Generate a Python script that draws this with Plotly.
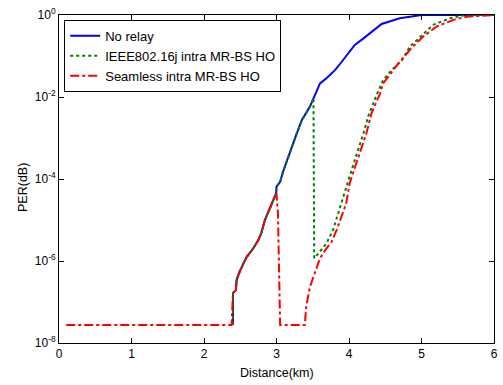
import plotly.graph_objects as go

FLOOR = 2.75e-8

blue_x = [2.40, 2.40, 2.44, 2.45, 2.49, 2.54, 2.59, 2.63, 2.68, 2.75, 2.79, 2.84, 2.88, 2.93, 2.98, 2.995,
          3.00, 3.05, 3.09, 3.18, 3.28, 3.35, 3.46, 3.51, 3.60, 3.69, 3.81, 3.90, 4.08, 4.20, 4.38,
          4.45, 4.70, 4.89, 5.00, 6.00]
blue_y = [FLOOR, 1.66e-7, 1.95e-7, 3.47e-7, 5.5e-7, 8.7e-7, 1.26e-6, 1.55e-6, 2.04e-6, 3.24e-6, 4.8e-6,
          1.0e-5, 1.45e-5, 2.34e-5, 3.7e-5, 4.5e-5, 6.5e-5, 8.5e-5, 1.5e-4, 4.3e-4, 1.3e-3, 2.75e-3,
          5.75e-3, 9.3e-3, 0.0214, 0.0288, 0.0457, 0.0724, 0.186, 0.269, 0.479, 0.603, 0.832, 0.955, 1.0, 1.0]

green_x = [2.40, 2.40, 2.44, 2.45, 2.49, 2.54, 2.59, 2.63, 2.68, 2.75, 2.79, 2.84, 2.88, 2.93, 2.98, 2.995,
           3.00, 3.05, 3.09, 3.18, 3.28, 3.35, 3.46, 3.51, 3.52, 3.56, 3.60, 3.69, 3.78, 3.85, 3.92,
           3.99, 4.08, 4.20, 4.27, 4.38, 4.47, 4.59, 4.73, 4.84, 4.98, 5.16, 5.39, 5.60, 6.00]
green_y = [FLOOR, 1.66e-7, 1.95e-7, 3.47e-7, 5.5e-7, 8.7e-7, 1.26e-6, 1.55e-6, 2.04e-6, 3.24e-6, 4.8e-6,
           1.0e-5, 1.45e-5, 2.34e-5, 3.7e-5, 4.5e-5, 6.5e-5, 8.5e-5, 1.5e-4, 4.3e-4, 1.3e-3, 2.75e-3,
           5.75e-3, 9.3e-3, 1.17e-6, 1.4e-6, 1.7e-6, 2.7e-6, 5.75e-6, 1.45e-5, 3.7e-5, 9.5e-5, 2.9e-4,
           1.3e-3, 3.6e-3, 0.0112, 0.0257, 0.0457, 0.079, 0.17, 0.295, 0.575, 0.83, 1.0, 1.0]

red_x = [0.10, 2.38, 2.40, 2.44, 2.45, 2.49, 2.54, 2.59, 2.63, 2.68, 2.75, 2.79, 2.84, 2.88, 2.93, 2.98,
         3.00, 3.02, 3.05, 3.39, 3.41, 3.46, 3.53, 3.60, 3.69, 3.76, 3.83, 3.90, 3.96, 4.01, 4.04, 4.15,
         4.24, 4.31, 4.43, 4.47, 4.56, 4.70, 4.86, 5.02, 5.21, 5.44, 5.62, 5.90, 6.00]
red_y = [FLOOR, FLOOR, 1.66e-7, 1.95e-7, 3.47e-7, 5.5e-7, 8.7e-7, 1.26e-6, 1.55e-6, 2.04e-6, 3.24e-6,
         4.8e-6, 1.0e-5, 1.45e-5, 2.34e-5, 3.7e-5, 4.5e-5, 1.45e-5, FLOOR, FLOOR, 7.8e-8, 2.3e-7, 5.5e-7,
         1.17e-6, 2.04e-6, 2.95e-6, 5.75e-6, 1.2e-5, 2.5e-5, 8e-5, 1.15e-4, 4.3e-4, 1.3e-3, 4.0e-3,
         0.0123, 0.0214, 0.0347, 0.0724, 0.155, 0.295, 0.525, 0.76, 0.91, 1.0, 1.0]

x_ticks = [0, 1, 2, 3, 4, 5, 6]
x_ticktext = ["0", "1", "2", "3", "4", "5", "6"]
y_ticks = [1e-8, 1e-6, 1e-4, 1e-2, 1]
y_ticktext = ["10<sup>-8</sup>", "10<sup>-6</sup>", "10<sup>-4</sup>", "10<sup>-2</sup>", "10<sup>0</sup>"]

fig = go.Figure()
fig.add_trace(go.Scatter(x=blue_x, y=blue_y, mode="lines", name="No relay",
                         line=dict(color="#0000ff", width=2)))
fig.add_trace(go.Scatter(x=green_x, y=green_y, mode="lines", name="IEEE802.16j intra MR-BS HO",
                         line=dict(color="#008000", width=2, dash="dot")))
fig.add_trace(go.Scatter(x=red_x, y=red_y, mode="lines", name="Seamless intra MR-BS HO",
                         line=dict(color="#ff0000", width=2, dash="dashdot")))

axis_common = dict(showline=True, linecolor="black", linewidth=1, mirror="ticks", ticks="inside",
                   ticklen=5, tickcolor="black", showgrid=False, zeroline=False, automargin=False,
                   ticklabeloverflow="allow",
                   tickfont=dict(family="Liberation Sans, Arial", size=12, color="black"))

fig.update_layout(
    width=503, height=385,
    margin=dict(l=59, r=9, t=15, b=42),
    paper_bgcolor="white", plot_bgcolor="white",
    font=dict(family="Liberation Sans, Arial", size=12, color="black"),
    xaxis=dict(range=[0, 6], tickvals=x_ticks, ticktext=x_ticktext, **axis_common),
    yaxis=dict(type="log", range=[-8, 0], tickvals=y_ticks, ticktext=y_ticktext, **axis_common),
    legend=dict(x=0.012, y=0.985, xanchor="left", yanchor="top", bgcolor="white",
                bordercolor="black", borderwidth=1, font=dict(size=13), tracegroupgap=0),
    showlegend=True,
    annotations=[
        dict(text="Distance(km)", xref="paper", yref="paper", x=0.5, y=-0.0915,
             xanchor="center", yanchor="middle", showarrow=False, font=dict(size=12.5)),
        dict(text="PER(dB)", xref="paper", yref="paper", x=-0.0828, y=0.4756, textangle=-90,
             xanchor="center", yanchor="middle", showarrow=False, font=dict(size=12.5)),
    ],
)

fig.write_html("out.html", config={"displayModeBar": False},
               post_script="document.body.style.margin='0';")
